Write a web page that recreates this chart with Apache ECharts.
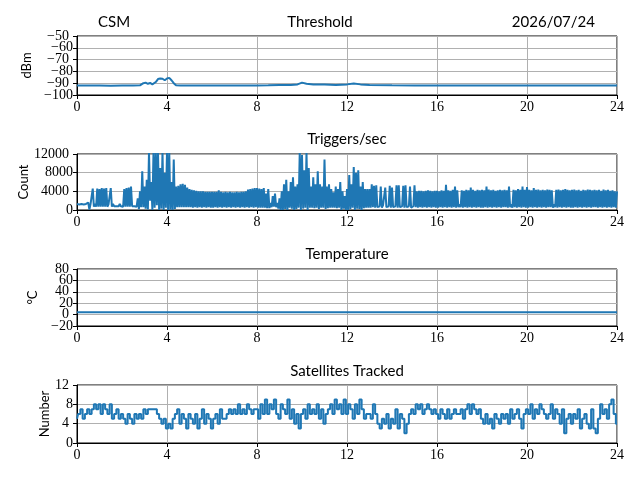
<!DOCTYPE html>
<html>
<head>
<meta charset="utf-8">
<script src="https://cdn.jsdelivr.net/npm/echarts@6/dist/echarts.min.js"></script>
<style>
  html, body { margin: 0; padding: 0; background: #fff; }
  #chart { width: 640px; height: 480px; }
</style>
</head>
<body>
<div id="chart"></div>
<script>
// x axis ticks (hours)
const hourTicks = [0, 4, 8, 12, 16, 20, 24];

// threshold (dBm), irregular sample times
const threshTime = [0, 0.5, 1, 1.5, 2, 2.5, 2.8, 2.95, 3.05, 3.15, 3.25, 3.35, 3.5, 3.6, 3.7, 3.8, 3.9, 4.0, 4.1, 4.2, 4.3, 4.4, 4.6,
  5, 6, 7, 8, 8.5, 9, 9.5, 9.8, 10.0, 10.2, 10.5, 11, 11.5, 12, 12.3, 12.6, 13, 14, 15, 16, 18, 20, 22, 24];
const threshVal = [-92, -92, -92, -92.2, -92, -92, -91.8, -90, -89.5, -90.5, -89.8, -91, -89, -86.5, -86, -86.2, -87.5, -86, -85.5, -87.5, -90, -91.8, -92,
  -92, -92, -92, -92, -91.8, -91.5, -91.5, -91, -89.5, -90.5, -91, -91.2, -91.5, -91, -90.3, -91, -91.5, -91.8, -92, -92, -92, -92, -92, -92];

// triggers/sec, upper and lower swing every 0.1 h
const trigHi = [
  1300,1200,1300,1200,1300,1600,1200,4600,1300,4600,
  4500,4700,4600,4700,1200,4700,1300,1100,1200,1300,
  1200,4500,4700,4800,5000,1200,1100,2500,4000,8300,
  5000,6500,12500,6000,12500,12500,12500,9000,12500,8000,
  12500,12500,6000,10800,5000,5200,5500,5600,5400,4800,
  4500,4300,4200,4100,4000,4000,4000,3900,3900,3900,
  3900,3900,3900,4200,3900,3800,3900,3800,3900,3800,
  3800,3900,3800,3900,3900,4000,4400,4500,4600,4700,
  4700,4600,4500,4700,3500,4500,1500,3000,3500,1500,
  2500,4000,5500,6500,4000,6000,7000,5000,5500,12500,
  11800,8500,12300,9000,5000,7000,5500,8300,5500,5000,
  10800,5000,5500,4500,3800,5000,4500,6000,4000,3000,
  4500,7500,5500,9200,8000,8500,5000,6000,4500,4500,
  4500,5500,5200,5300,1000,5000,1000,4800,1000,5200,
  4800,900,5300,5300,900,5200,5300,900,5000,900,
  5300,4000,4100,4100,4000,4100,4200,4100,4000,4100,
  4100,4000,4200,4100,5400,4200,4100,4300,5000,4200,
  1200,4200,4100,4300,4200,4800,4300,4100,4300,4200,
  4300,4200,5000,4400,4200,4300,4100,4200,4300,4200,
  4300,4200,5000,1200,4300,4200,4500,4300,5000,4300,
  4900,4300,4200,4700,4300,4400,4200,4300,4200,4400,
  4300,4200,1200,4300,4400,4200,4300,4500,4300,4200,
  4300,4400,4200,4300,4100,4300,4200,4400,4300,4200,
  4300,4200,4300,4100,4400,4200,4300,4100,4200,4000,
  4000
];
const trigLo = [
  900,1000,900,900,1000,100,900,700,700,700,
  700,700,700,700,900,700,800,800,800,800,
  700,700,700,700,800,800,700,200,600,600,
  300,100,2000,0,500,1000,0,300,0,500,
  0,100,0,200,600,600,600,600,600,600,
  600,500,600,500,600,500,600,500,600,500,
  500,600,500,600,500,600,500,600,500,600,
  500,600,500,600,500,600,500,600,500,600,
  500,500,500,500,400,400,600,700,600,300,
  0,0,200,0,500,300,0,200,500,0,
  300,500,0,500,500,400,500,200,500,500,
  200,400,500,500,500,400,500,0,300,0,
  0,200,500,0,300,200,0,400,500,500,
  500,600,500,600,800,500,800,600,800,500,
  600,800,500,600,800,500,600,800,500,800,
  600,500,600,500,600,500,600,500,600,500,
  500,600,500,600,500,600,500,600,500,600,
  600,500,600,500,600,500,600,500,600,500,
  500,600,500,600,500,600,500,600,500,600,
  600,500,600,500,600,500,600,500,600,500,
  500,600,500,600,500,600,500,600,500,600,
  600,500,600,500,600,500,600,500,600,500,
  500,600,500,600,500,600,500,600,500,600,
  600,500,600,500,600,500,600,500,600,500,
  500
];

// temperature (deg C), hourly
const tempVal = [4,4,4,4,4,4,4,4,4,4,4,4,4,4,4,4,4,4,4,4,4,4,4,4,4];

// satellites tracked every 0.1 h
const satVal = [
  5,6,7,5,6,7,6,7,8,7,
  8,6,8,7,6,8,5,6,7,5,
  6,5,4,6,5,4,6,5,6,5,
  7,6,7,7,7,7,6,5,4,5,
  3,4,3,5,6,7,4,6,5,3,
  6,5,4,6,3,5,7,4,6,5,
  3,5,6,4,7,5,5,6,7,6,
  7,6,8,6,7,6,8,7,6,7,
  7,5,8,6,9,6,8,7,9,6,
  5,8,7,6,9,5,7,4,6,3,
  6,7,5,8,6,7,6,8,5,7,
  4,6,7,8,6,9,7,8,6,9,
  6,8,7,5,8,6,9,7,5,6,
  6,5,8,6,4,3,5,4,6,3,
  5,4,7,3,6,5,2,4,6,7,
  6,8,7,8,6,7,8,7,6,7,
  6,5,7,6,5,7,5,6,7,6,
  6,7,5,7,8,6,8,7,6,7,
  5,4,6,4,5,3,6,5,4,6,
  5,6,4,7,5,6,7,5,3,6,
  7,6,8,5,7,6,8,7,6,5,
  6,8,5,7,6,4,7,2,5,6,
  4,6,5,7,3,5,6,4,3,7,
  3,2,5,8,6,7,5,8,9,6,
  4
];

// y tick labels per panel, split in two alternating sets
const yTicksA = [[-100, -80, -60], [0, 8000], [-20, 20, 60], [0, 8]];
const yTicksB = [[-90, -70, -50], [4000, 12000], [0, 40, 80], [4, 12]];

const BLUE = '#1f77b4';
const serif = '"Liberation Serif", "DejaVu Serif", serif';
const sans = 'Lato, "Noto Sans", sans-serif';

// build [t, v] pairs
let threshData = threshTime.map((t, i) => [t, threshVal[i]]);
let trigData = [];
trigHi.forEach((h, i) => {
  trigData.push([+(i * 0.1).toFixed(2), h]);
  if (i < trigLo.length - 1) trigData.push([+(i * 0.1 + 0.05).toFixed(3), trigLo[i]]);
});
let tempData = tempVal.map((v, i) => [i, v]);
let satData = satVal.map((v, i) => [+(i * 0.1).toFixed(2), v]);

// panel layout: [top, height]
const panels = [[36, 59], [154, 56], [269, 57], [385, 58]];
const yCfg = [
  { min: -100, max: -50, interval: 10, name: 'dBm', gap: 44 },
  { min: 0, max: 12000, interval: 4000, name: 'Count', gap: 47 },
  { min: -20, max: 80, interval: 20, name: '\u00b0C', gap: 38 },
  { min: 0, max: 12, interval: 4, name: 'Number', gap: 26 }
];
const seriesData = [threshData, trigData, tempData, satData];
const stepMode = [false, false, false, 'middle'];

function tickFmt(list) {
  return v => list.indexOf(v) >= 0 ? String(v).replace('-', '\u2212') : '';
}

let grids = [], xAxes = [], yAxes = [], series = [];
panels.forEach((p, i) => {
  grids.push({ left: 77, right: 23, top: p[0], height: p[1], show: true,
    borderColor: '#000', borderWidth: 1, backgroundColor: 'transparent' });
  xAxes.push({
    type: 'value', gridIndex: i, min: 0, max: 24, interval: 4,
    axisLine: { show: true, onZero: false, lineStyle: { color: '#000', width: 1 } },
    axisTick: { show: true, length: 4, lineStyle: { color: '#000' } },
    axisLabel: { color: '#000', fontFamily: serif, fontSize: 14, margin: 5,
      showMinLabel: true, showMaxLabel: true,
      formatter: v => hourTicks.indexOf(v) >= 0 ? String(v) : '' },
    splitLine: { show: true, lineStyle: { color: '#b0b0b0', width: 1 } }
  });
  let c = yCfg[i];
  // main axis: line, ticks, grid, name and every other label
  yAxes.push({
    type: 'value', gridIndex: i, min: c.min, max: c.max, interval: c.interval, position: 'left', offset: 0,
    name: c.name, nameLocation: 'middle', nameGap: c.gap, nameRotate: 90,
    nameTextStyle: { color: '#000', fontFamily: sans, fontSize: 13 },
    axisLine: { show: true, onZero: false, lineStyle: { color: '#000', width: 1 } },
    axisTick: { show: true, length: 4, lineStyle: { color: '#000' } },
    axisLabel: { color: '#000', fontFamily: serif, fontSize: 14, margin: 4,
      showMinLabel: true, showMaxLabel: true, formatter: tickFmt(yTicksA[i]) },
    splitLine: { show: true, lineStyle: { color: '#b0b0b0', width: 1 } }
  });
  // twin axis on the same side carrying the remaining labels
  yAxes.push({
    type: 'value', gridIndex: i, min: c.min, max: c.max, interval: c.interval, position: 'left', offset: 0,
    axisLine: { show: false }, axisTick: { show: false }, splitLine: { show: false },
    axisLabel: { color: '#000', fontFamily: serif, fontSize: 14, margin: 8,
      showMinLabel: true, showMaxLabel: true, formatter: tickFmt(yTicksB[i]) }
  });
  series.push({
    type: 'line', xAxisIndex: i, yAxisIndex: i * 2, data: seriesData[i],
    showSymbol: false, clip: true, silent: true, step: stepMode[i],
    lineStyle: { color: BLUE, width: 2 }
  });
});

function label(text, x, y, align) {
  return { type: 'text', x: x, y: y, silent: true,
    style: { text: text, fill: '#000', font: '15px ' + sans, textAlign: align || 'center', textVerticalAlign: 'middle' } };
}

let myChart = echarts.init(document.getElementById('chart'));
myChart.setOption({
  animation: false,
  grid: grids,
  xAxis: xAxes,
  yAxis: yAxes,
  series: series,
  graphic: [
    label('CSM', 98, 22, 'left'),
    label('Threshold', 320, 22),
    label('2026/07/24', 595, 22, 'right'),
    label('Triggers/sec', 347, 139),
    label('Temperature', 347, 254),
    label('Satellites Tracked', 347, 371)
  ]
});
</script>
</body>
</html>
